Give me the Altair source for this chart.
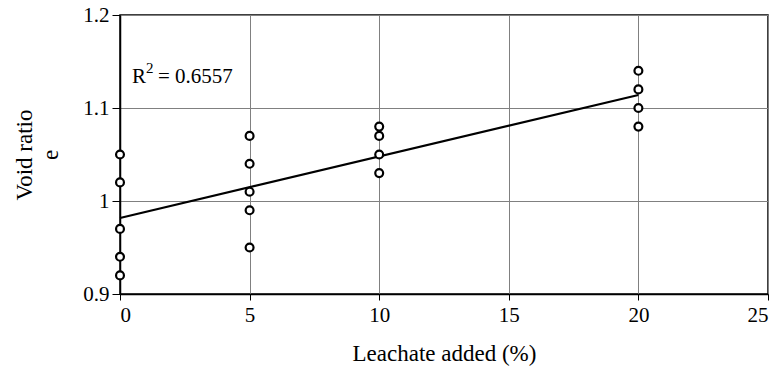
import altair as alt
import pandas as pd

leachate = [0, 0, 0, 0, 0, 5, 5, 5, 5, 5, 10, 10, 10, 10, 20, 20, 20, 20]
void_ratio = [1.05, 1.02, 0.97, 0.94, 0.92,
              1.07, 1.04, 1.01, 0.99, 0.95,
              1.08, 1.07, 1.05, 1.03,
              1.14, 1.12, 1.10, 1.08]
x_ticks = [0, 5, 10, 15, 20, 25]
y_ticks = [0.9, 1.0, 1.1, 1.2]
r2_parts = ["R", "2", "= 0.6557"]
r2_pos = [0.46, 1.127]

df = pd.DataFrame({"x": leachate, "y": void_ratio})
FONT = "Liberation Serif"

xs = alt.Scale(domain=[0, 25], nice=False)
ys = alt.Scale(domain=[0.9, 1.2], nice=False, zero=False)

base = alt.Chart(df)

points = base.mark_point(shape="circle", filled=False, size=62, strokeWidth=2.2,
                         color="black", fill="white", opacity=1).encode(
    x=alt.X("x:Q", scale=xs,
            axis=alt.Axis(values=x_ticks, title="Leachate added (%)", format="d",
                          tickSize=6, tickColor="black", labelPadding=4,
                          titlePadding=17)),
    y=alt.Y("y:Q", scale=ys,
            axis=alt.Axis(values=y_ticks, title=["Void ratio", "e"], format=".1~f",
                          tickSize=8, tickColor="black", labelPadding=3,
                          titlePadding=20, titleLineHeight=26)),
)

line = base.transform_regression("x", "y", extent=[0, 20]).mark_line(
    color="black", strokeWidth=2.2).encode(
    x=alt.X("x:Q", scale=xs), y=alt.Y("y:Q", scale=ys))

tdf = pd.DataFrame({"x": [r2_pos[0]], "y": [r2_pos[1]]})
t_r = alt.Chart(tdf).mark_text(align="left", baseline="alphabetic", font=FONT,
                               fontSize=21, color="black", text=r2_parts[0]).encode(
    x=alt.X("x:Q", scale=xs), y=alt.Y("y:Q", scale=ys))
t_2 = alt.Chart(tdf).mark_text(align="left", baseline="alphabetic", font=FONT,
                               fontSize=15, color="black", text=r2_parts[1],
                               dx=14, dy=-10).encode(
    x=alt.X("x:Q", scale=xs), y=alt.Y("y:Q", scale=ys))
t_v = alt.Chart(tdf).mark_text(align="left", baseline="alphabetic", font=FONT,
                               fontSize=21, color="black", text=r2_parts[2],
                               dx=26).encode(
    x=alt.X("x:Q", scale=xs), y=alt.Y("y:Q", scale=ys))

chart = alt.layer(line, points, t_r, t_2, t_v).properties(
    width=648, height=279,
    autosize=alt.AutoSizeParams(type="none"),
    padding={"left": 112, "top": 7, "right": 4, "bottom": 74},
).configure_view(
    stroke="black", strokeWidth=1.5
).configure_axis(
    labelFont=FONT, titleFont=FONT, labelFontSize=21, titleFontSize=23,
    labelColor="black", titleColor="black", titleFontWeight="normal",
    gridColor="#808080", gridWidth=1, gridOpacity=1,
    domainColor="black", domainWidth=1.5,
)

chart.save("out.html", embed_options={"renderer": "svg", "actions": False})
